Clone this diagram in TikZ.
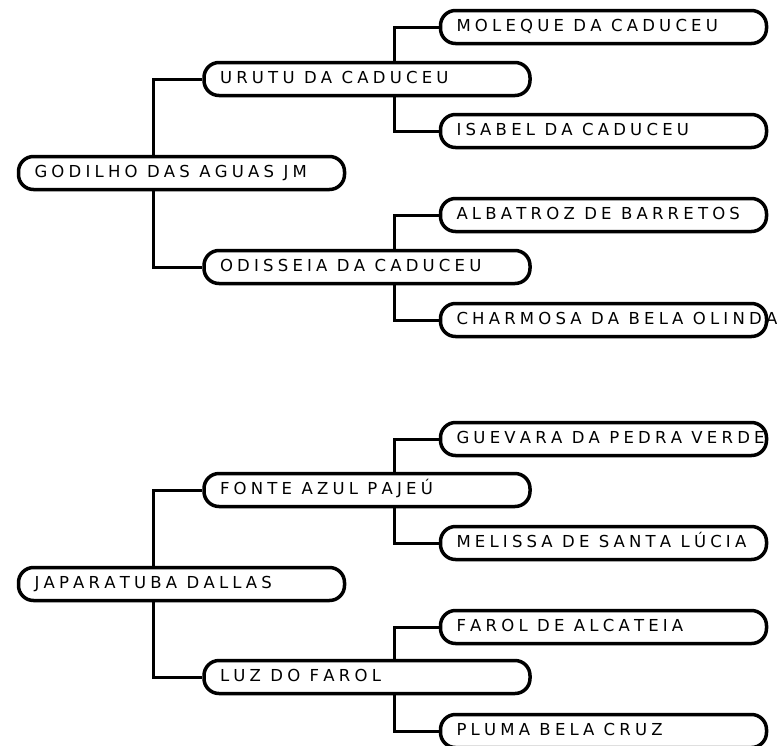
\documentclass[tikz,border=0pt]{standalone}
\usepackage{fontspec}
\setmainfont{DejaVu Sans}
\usetikzlibrary{backgrounds}
\newdimen\lsk \lsk=4.2pt
\def\lsword#1{\ifx#1\relax\else#1\kern\lsk\expandafter\lsword\fi}
\def\lswA#1 #2\relax{\lsword#1\relax\ifx\relax#2\relax\else\hskip 0.318em\relax\lswA#2\relax\fi}
\def\lsw#1{\hbox{\lswA#1 \relax}}
\tikzset{
  pnode/.style={draw=black, line width=3.5pt, fill=white, rounded corners=15pt,
    minimum height=33pt, text width=294pt, inner xsep=16pt, inner ysep=0pt,
    align=left, text height=12pt, text depth=3pt,
    font=\fontsize{16.5}{18}\selectfont},
  link/.style={draw=black, line width=3pt}
}
\begin{document}
\begin{tikzpicture}[x=1pt,y=1pt]
\useasboundingbox (0,0) rectangle (777,-745);
% tree 1
\node[pnode] (r1) at (181.5,-173) {\lsw{GODILHO DAS AGUAS JM}};
\node[pnode] (a1) at (367,-79) {\lsw{URUTU DA CADUCEU}};
\node[pnode] (a2) at (367,-267) {\lsw{ODISSEIA DA CADUCEU}};
\node[pnode] (b1) at (603.5,-27) {\lsw{MOLEQUE DA CADUCEU}};
\node[pnode] (b2) at (603.5,-131) {\lsw{ISABEL DA CADUCEU}};
\node[pnode] (b3) at (603.5,-215) {\lsw{ALBATROZ DE BARRETOS}};
\node[pnode] (b4) at (603.5,-320) {\lsw{CHARMOSA DA BELA OLINDA}};
% tree 2
\node[pnode] (r2) at (181.5,-584) {\lsw{JAPARATUBA DALLAS}};
\node[pnode] (c1) at (367,-490) {\lsw{FONTE AZUL PAJEÚ}};
\node[pnode] (c2) at (367,-677) {\lsw{LUZ DO FAROL}};
\node[pnode] (d1) at (603.5,-439) {\lsw{GUEVARA DA PEDRA VERDE}};
\node[pnode] (d2) at (603.5,-543) {\lsw{MELISSA DE SANTA LÚCIA}};
\node[pnode] (d3) at (603.5,-627) {\lsw{FAROL DE ALCATEIA}};
\node[pnode] (d4) at (603.5,-731) {\lsw{PLUMA BELA CRUZ}};
\begin{scope}[on background layer]
  \draw[link] ([xshift=137pt]r1.west) |- (a1.west);
  \draw[link] ([xshift=137pt]r1.west) |- (a2.west);
  \draw[link] ([xshift=192pt]a1.west) |- (b1.west);
  \draw[link] ([xshift=192pt]a1.west) |- (b2.west);
  \draw[link] ([xshift=192pt]a2.west) |- (b3.west);
  \draw[link] ([xshift=192pt]a2.west) |- (b4.west);
  \draw[link] ([xshift=137pt]r2.west) |- (c1.west);
  \draw[link] ([xshift=137pt]r2.west) |- (c2.west);
  \draw[link] ([xshift=192pt]c1.west) |- (d1.west);
  \draw[link] ([xshift=192pt]c1.west) |- (d2.west);
  \draw[link] ([xshift=192pt]c2.west) |- (d3.west);
  \draw[link] ([xshift=192pt]c2.west) |- (d4.west);
\end{scope}
\end{tikzpicture}
\end{document}
